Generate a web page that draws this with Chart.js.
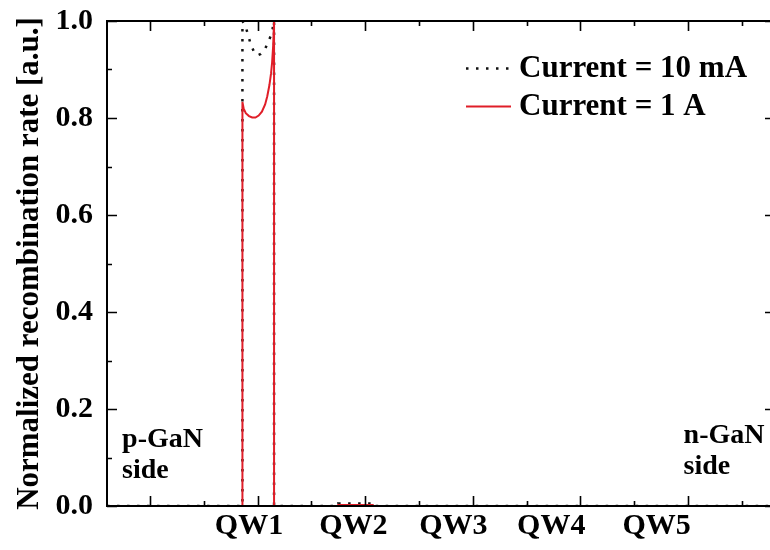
<!DOCTYPE html>
<html>
<head>
<meta charset="utf-8">
<script src="https://cdn.jsdelivr.net/npm/chart.js@4.4.0/dist/chart.umd.min.js"></script>
<style>
  html, body { margin: 0; padding: 0; background: #fff; overflow: hidden; width: 770px; height: 550px; }
  canvas { display: block; }
</style>
</head>
<body>
<canvas id="rateChart" width="780" height="550" style="width:780px;height:550px"></canvas>
<script>
// Position across the active region (nm) and normalized recombination rate
const depth10mA = [6, 18.59, 18.59, 18.85, 19.1, 19.35, 19.65, 19.95, 20.3, 20.65, 20.95, 21.2, 21.4, 21.53, 21.53, 27.5, 27.5, 30.7, 30.7, 68.1];
const rate10mA  = [0, 0, 1.0, 0.992, 0.972, 0.953, 0.937, 0.929, 0.932, 0.940, 0.955, 0.968, 0.985, 1.0, 0, 0, 0.005, 0.005, 0, 0];

const depth1A = [6, 18.59, 18.59, 18.7, 18.9, 19.2, 19.5, 19.8, 20.1, 20.4, 20.7, 20.9, 21.1, 21.25, 21.35, 21.45, 21.53, 21.53, 27.5, 27.5, 30.7, 30.7, 68.1];
const rate1A  = [0, 0, 0.833, 0.820, 0.810, 0.804, 0.801, 0.801, 0.805, 0.813, 0.828, 0.845, 0.868, 0.892, 0.915, 0.95, 1.0, 0, 0, 0.002, 0.002, 0, 0];

// Quantum-well names and where they sit along the depth axis
const wellLabels = ['QW1', 'QW2', 'QW3', 'QW4', 'QW5'];
const wellLabelDepths = [19.2, 28.9, 38.2, 47.3, 57.1];

const seriesNames = ['Current = 10 mA', 'Current = 1 A'];
const regionNotes = [
  { lines: ['p-GaN', 'side'], depth: 7.4, rate: 0.122 },
  { lines: ['n-GaN', 'side'], depth: 59.6, rate: 0.130 }
];

const FONT = "'Liberation Serif', 'Times New Roman', serif";
const toPoints = (xs, ys) => xs.map((x, i) => ({ x, y: ys[i] }));

// Closed frame with inward major/minor tick marks on all four sides
const frameTicks = {
  id: 'frameTicks',
  afterDatasetsDraw(chart) {
    const { ctx, chartArea: a, scales: { x, y } } = chart;
    ctx.save();
    ctx.strokeStyle = '#000';
    ctx.lineWidth = 2;
    ctx.strokeRect(a.left, a.top, a.right - a.left, a.bottom - a.top);
    ctx.lineWidth = 1.6;
    ctx.beginPath();
    for (let v = 5; v <= x.max; v += 5) {
      if (v < x.min) continue;
      const px = Math.round(x.getPixelForValue(v)) + 0.5;
      const len = v % 10 === 0 ? 10 : 5;
      ctx.moveTo(px, a.bottom); ctx.lineTo(px, a.bottom - len);
      ctx.moveTo(px, a.top); ctx.lineTo(px, a.top + len);
    }
    y.ticks.forEach(t => {
      const py = Math.round(y.getPixelForValue(t.value)) + 0.5;
      const major = Math.round(t.value * 10) % 2 === 0;
      const len = major ? 10 : 5;
      ctx.moveTo(a.left, py); ctx.lineTo(a.left + len, py);
      ctx.moveTo(a.right, py); ctx.lineTo(a.right - len, py);
    });
    ctx.stroke();
    ctx.restore();
  }
};

// Legend inside the plot area plus the side annotations
const notes = {
  id: 'notes',
  afterDatasetsDraw(chart) {
    const { ctx, scales: { x, y } } = chart;
    ctx.save();
    ctx.fillStyle = '#000';
    ctx.font = `bold 31px ${FONT}`;
    ctx.textBaseline = 'middle';
    ctx.textAlign = 'left';
    const rows = [68, 106];
    chart.data.datasets.forEach((ds, i) => {
      const yy = rows[i] + 0.5;
      ctx.save();
      ctx.strokeStyle = ds.borderColor;
      ctx.lineWidth = ds.borderWidth;
      ctx.setLineDash(ds.borderDash || []);
      ctx.beginPath();
      ctx.moveTo(466, yy); ctx.lineTo(511, yy);
      ctx.stroke();
      ctx.restore();
      ctx.fillText(ds.label, 519, rows[i] + 1);
    });
    ctx.font = `bold 28px ${FONT}`;
    ctx.textBaseline = 'alphabetic';
    regionNotes.forEach(n => {
      const px = x.getPixelForValue(n.depth);
      const py = y.getPixelForValue(n.rate);
      n.lines.forEach((t, k) => ctx.fillText(t, px, py + k * 31));
    });
    ctx.restore();
  }
};

new Chart(document.getElementById('rateChart'), {
  type: 'line',
  data: {
    datasets: [
      {
        label: seriesNames[0],
        data: toPoints(depth10mA, rate10mA),
        borderColor: '#111',
        borderWidth: 2.5,
        borderDash: [2.5, 7.5],
        pointRadius: 0,
        tension: 0,
        fill: false,
        order: 1
      },
      {
        label: seriesNames[1],
        data: toPoints(depth1A, rate1A),
        borderColor: '#e01e28',
        borderWidth: 2,
        pointRadius: 0,
        tension: 0,
        fill: false,
        order: 0
      }
    ]
  },
  options: {
    responsive: false,
    animation: false,
    devicePixelRatio: 1,
    layout: { padding: { top: 21, right: 5, left: 0, bottom: 0 } },
    plugins: { legend: { display: false }, tooltip: { enabled: false } },
    scales: {
      x: {
        type: 'linear',
        min: 6,
        max: 68.1,
        grid: { display: false, drawTicks: false },
        border: { display: false },
        afterBuildTicks: s => { s.ticks = wellLabelDepths.map(v => ({ value: v })); },
        afterFit: s => { s.height = 44; s.paddingLeft = 0; s.paddingRight = 0; },
        ticks: {
          autoSkip: false,
          maxRotation: 0,
          padding: 2,
          color: '#000',
          font: { family: FONT, size: 30, weight: 'bold' },
          callback: (v, i) => wellLabels[i]
        }
      },
      y: {
        min: 0,
        max: 1,
        grid: { display: false, drawTicks: false },
        border: { display: false },
        afterFit: s => { s.width = 107; s.paddingTop = 0; s.paddingBottom = 0; },
        ticks: {
          stepSize: 0.1,
          autoSkip: false,
          padding: 14,
          color: '#000',
          font: { family: FONT, size: 30, weight: 'bold' },
          callback: v => (Math.round(v * 10) % 2 === 0 ? v.toFixed(1) : '')
        },
        title: {
          display: true,
          text: 'Normalized recombination rate [a.u.]',
          color: '#000',
          padding: { top: 11, bottom: 0 },
          font: { family: FONT, size: 31, weight: 'bold' }
        }
      }
    }
  },
  plugins: [frameTicks, notes]
});
</script>
</body>
</html>
